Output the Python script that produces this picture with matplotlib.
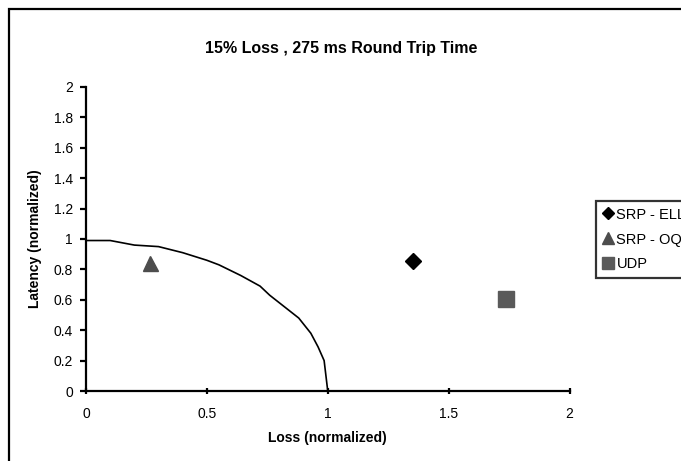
import matplotlib
matplotlib.use("Agg")
import matplotlib.pyplot as plt
from matplotlib.patches import Rectangle
from matplotlib.ticker import MultipleLocator, FuncFormatter

plt.rcParams['font.family'] = ['Liberation Sans', 'DejaVu Sans']

# bound curve
curve_x = [0, 0.1, 0.2, 0.3, 0.4, 0.5, 0.55, 0.64, 0.72, 0.76, 0.82, 0.88, 0.93, 0.96, 0.985, 1.0]
curve_y = [0.99, 0.99, 0.96, 0.95, 0.91, 0.86, 0.83, 0.76, 0.69, 0.63, 0.555, 0.48, 0.38, 0.29, 0.2, 0.0]

# protocols
names = ["SRP - ELL", "SRP - OQ", "UDP"]
loss = [1.354, 0.265, 1.739]
latency = [0.855, 0.845, 0.605]

fig = plt.figure(figsize=(6.81, 4.61), dpi=100)
ax = fig.add_axes([86/681, 70/461, 483.5/681, 304/461])

# outer chart frame (runs off right/bottom edge)
fig.patches.append(Rectangle((9/681, -0.2), 1.2, 1.2 - 9/461, transform=fig.transFigure,
                             fill=False, edgecolor="black", linewidth=1.6, zorder=0))

ax.plot(curve_x, curve_y, color="black", linewidth=1.2, zorder=2)

ax.plot(loss[0], latency[0], "D", color="black", markersize=8.6, linestyle="none",
        label=names[0], zorder=3)
ax.plot(loss[1], latency[1], "^", color="#4d4d4d", markersize=10.8, linestyle="none",
        label=names[1], zorder=3)
ax.plot(loss[2], latency[2], "s", color="#5a5a5a", markersize=11.5, linestyle="none",
        label=names[2], zorder=3)

ax.set_xlim(0, 2)
ax.set_ylim(0, 2)
ax.xaxis.set_major_locator(MultipleLocator(0.5))
ax.yaxis.set_major_locator(MultipleLocator(0.2))
fmt = FuncFormatter(lambda v, p: "%g" % round(v, 2))
ax.xaxis.set_major_formatter(fmt)
ax.yaxis.set_major_formatter(fmt)

ax.spines["top"].set_visible(False)
ax.spines["right"].set_visible(False)
ax.spines["left"].set_linewidth(1.6)
ax.spines["bottom"].set_linewidth(1.6)
ax.tick_params(axis="y", direction="out", length=4.5, width=1.6, pad=5, labelsize=10)
ax.tick_params(axis="x", direction="inout", length=5, width=1.6, pad=9, labelsize=10)

ax.set_xlabel("Loss (normalized)", fontsize=10, fontweight="bold")
ax.set_ylabel("Latency (normalized)", fontsize=10, fontweight="bold")
ax.xaxis.set_label_coords(0.5, -0.13)
ax.yaxis.set_label_coords(-0.09, 0.5)

fig.text(341/681, 1 - 48/461, "15% Loss , 275 ms Round Trip Time",
         ha="center", va="center", fontsize=11.5, fontweight="bold")

leg = ax.legend(loc="upper left", bbox_to_anchor=(596/681, 1 - 201/461),
                bbox_transform=fig.transFigure, fontsize=10.5, markerscale=0.75,
                frameon=True, fancybox=False, borderaxespad=0, handlelength=0.7,
                handletextpad=0.25, labelspacing=0.75, borderpad=0.45)
leg.get_frame().set_edgecolor("black")
leg.get_frame().set_linewidth(1.6)

fig.savefig("out.png", dpi=100)
